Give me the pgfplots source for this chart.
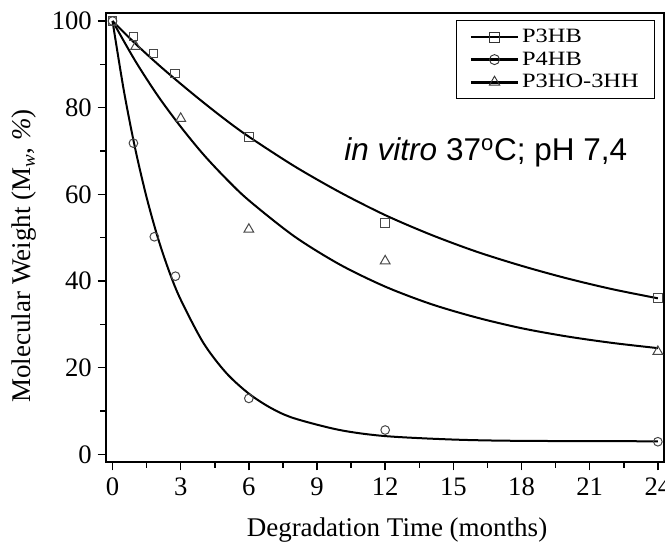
\documentclass[border=0pt]{standalone}
\usepackage{fontspec}
\setmainfont{Liberation Serif}
\newfontfamily\arialfont{Liberation Sans}
\newfontfamily\legfont[FakeStretch=1.2]{Liberation Serif}
\usepackage{pgfplots}
\pgfplotsset{compat=1.18}
\begin{document}
\begin{tikzpicture}
\begin{axis}[
  scale only axis,
  width=334.8pt, height=269.4pt,
  xmin=-0.286, xmax=24.27,
  ymin=-1.78, ymax=101.84,
  xtick={0,3,...,24},
  ytick={0,20,...,100},
  minor x tick num=1,
  minor y tick num=1,
  tick pos=left,
  tick align=outside,
  major tick length=5pt,
  minor tick length=3.5pt,
  every tick/.style={black, line width=0.9pt},
  axis line style={line width=1pt},
  /pgf/number format/assume math mode=true,
  ticklabel style={font=\fontsize{16}{18}\selectfont},
  xticklabel style={yshift=-1pt},
  xlabel={Degradation Time (months)},
  ylabel={Molecular Weight (M\textsubscript{\textit{w}}, \textit{\%})},
  xlabel style={font=\fontsize{16.2}{18}\selectfont, at={(axis description cs:0.5215,-0.1664)}, anchor=base},
  ylabel style={font=\fontsize{16.2}{18}\selectfont, at={(axis description cs:-0.147,0.459)}, anchor=center},
  legend style={at={(0.984,0.984)}, anchor=north east, draw=black, line width=0.6pt,
    font=\legfont\fontsize{12.2}{13}\selectfont, row sep=0pt, inner xsep=8pt, inner ysep=3pt,
    nodes={inner xsep=1.5pt}},
  legend image code/.code={%
    \draw[#1, mark=none, line width=1.7pt] (0cm,0cm) -- (1.0cm,0cm);
    \draw[#1, only marks] plot coordinates {(0.5cm,0cm)};
  },
  legend cell align=left,
  clip=false,
]
\addlegendimage{black, mark=square, mark size=3pt, mark options={solid, draw=black!80, fill=white, line width=0.55pt}}
\addlegendentry{P3HB}
\addlegendimage{black, mark=o, mark size=3pt, mark options={solid, draw=black!80, fill=white, line width=0.55pt}}
\addlegendentry{P4HB}
\addlegendimage{black, mark=triangle, mark size=3.6pt, mark options={solid, draw=black!80, fill=white, line width=0.55pt}}
\addlegendentry{P3HO-3HH}

% fitted curves
\addplot[black, line width=1.2pt, smooth, forget plot] coordinates {
 (0,100) (1,94.8) (2,90.0) (3,85.5) (4,81.2) (5,77.1) (6,73.3) (8,66.5) (10,60.5)
 (12,55.2) (14,50.7) (16,46.8) (18,43.5) (20,40.6) (22,38.1) (24,36.0)};
\addplot[black, line width=1.2pt, smooth, forget plot] coordinates {
 (0,100) (1,90.8) (2,82.7) (3,75.6) (4,69.2) (5,63.6) (6,58.6) (8,50.3) (10,43.8)
 (12,38.7) (14,34.7) (16,31.6) (18,29.1) (20,27.2) (22,25.7) (24,24.5)};
\addplot[black, line width=1.2pt, smooth, forget plot] coordinates {
 (0,100) (0.5,83.9) (1,70.5) (1.5,59.3) (2,49.9) (2.5,42.1) (3,35.7) (4,25.7) (5,18.8)
 (6,14.0) (7,10.6) (8,8.3) (10,5.6) (12,4.2) (15,3.4) (18,3.1) (24,3.0)};

% data points
\addplot[only marks, mark=square, mark size=2.6pt, draw=black!72, line width=0.6pt, forget plot] coordinates {
 (0,100) (0.92,96.4) (1.8,92.5) (2.75,87.9) (6,73.3) (12,53.4) (24,36.1)};
\addplot[only marks, mark=o, mark size=2.6pt, draw=black!72, line width=0.6pt, forget plot] coordinates {
 (0,100) (0.92,71.8) (1.84,50.2) (2.77,41.1) (6,12.9) (12,5.6) (24,2.9)};
\addplot[only marks, mark=triangle, mark size=3.4pt, draw=black!72, line width=0.6pt, forget plot] coordinates {
 (1.02,94.1) (3,77.5) (6,51.9) (12,44.6) (24,23.7)};

\node[font=\arialfont\fontsize{18.9}{20}\selectfont, anchor=base] at (axis cs:16.43,67.8)
 {\textit{in vitro} 37\textsuperscript{o}C; pH 7,4};

\coordinate (bbl) at (rel axis cs:-0.190,-0.1826);
\coordinate (btr) at (rel axis cs:1.0018,1.029);
\end{axis}
\pgfresetboundingbox
\useasboundingbox (bbl) rectangle (btr);
\end{tikzpicture}
\end{document}
